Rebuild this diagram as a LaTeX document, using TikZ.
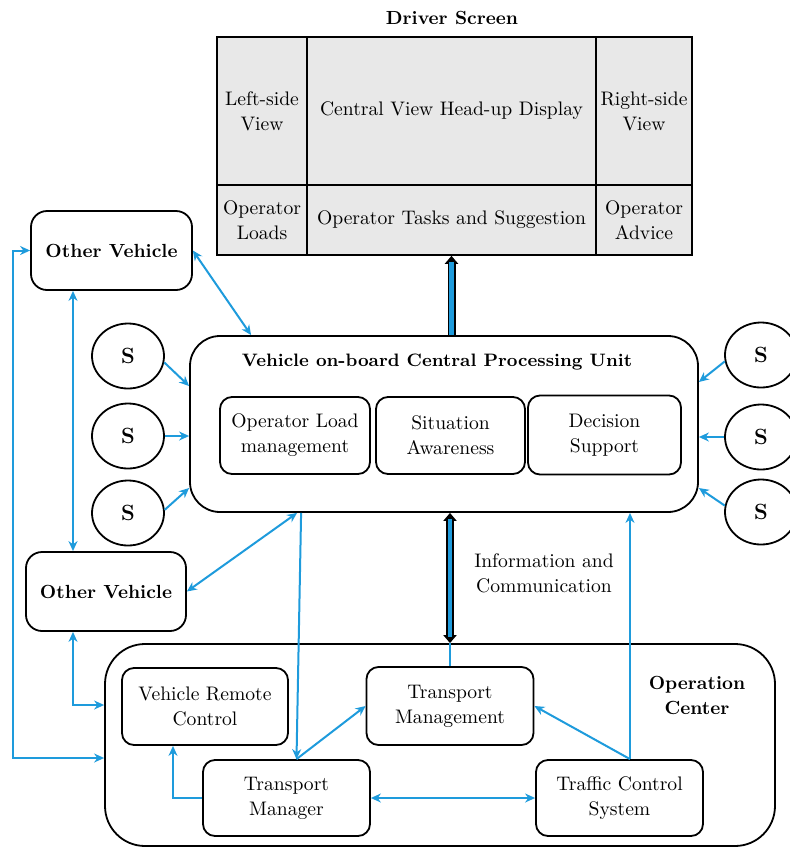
\documentclass[tikz,border=0pt]{standalone}
\usetikzlibrary{arrows.meta,shapes.geometric}
\definecolor{linkblue}{RGB}{30,155,220}

\begin{document}
\begin{tikzpicture}[x=0.5pt,y=-0.5pt,>={Stealth[length=5pt,width=4.5pt]}]
				\tikzstyle{every node}=[font=\fontsize{9.8}{12.5}\selectfont]
				\tikzstyle{title}=[font=\fontsize{9.5}{12.5}\selectfont\bfseries, align=center]
				\tikzstyle{cell}=[draw, fill=gray!18, line width=0.8pt, align=center, inner sep=0pt, minimum height=74pt]
				\tikzstyle{lowcell}=[cell, minimum height=35pt]
				\tikzstyle{unit}=[draw, line width=0.9pt, rounded corners=6pt, align=center, inner sep=0pt]
				\tikzstyle{sensor}=[draw, line width=0.9pt, ellipse, minimum width=36pt, minimum height=32.5pt, inner sep=0pt, font=\fontsize{11}{13}\selectfont\bfseries]
				\tikzstyle{link}=[draw=linkblue, line width=1pt]
				\tikzstyle{pipe}=[line width=4pt]
				\tikzstyle{pipecore}=[linkblue, line width=2.4pt]
				\useasboundingbox (0,0) rectangle (789,848);
				\node[title] (screen) at (452,18) {Driver Screen};
				\node[cell, minimum width=45pt] (leftv) at (262,111) {Left-side\\View};
				\node[cell, minimum width=144.5pt] (centv) at (451.5,111) {Central View Head-up Display};
				\node[cell, minimum width=48pt] (rightv) at (644,111) {Right-side\\View};
				\node[lowcell, minimum width=45pt] (loads) at (262,220) {Operator\\Loads};
				\node[lowcell, minimum width=144.5pt] (tasks) at (451.5,220) {Operator Tasks and Suggestion};
				\node[lowcell, minimum width=48pt] (advice) at (644,220) {Operator\\Advice};
				\node[unit, rounded corners=15pt, minimum width=254pt, minimum height=88pt] (cpu) at (444,424) {};
				\node[title, font=\fontsize{9}{12}\selectfont\bfseries] (cputitle) at (437,362) {Vehicle on-board Central Processing Unit};
				\node[unit, minimum width=75pt, minimum height=38.5pt] (olm) at (295,435.5) {Operator Load\\management};
				\node[unit, minimum width=74.5pt, minimum height=38.5pt] (sa) at (450.5,435.5) {Situation\\Awareness};
				\node[unit, minimum width=76.5pt, minimum height=39.5pt] (ds) at (604.5,435) {Decision\\Support};
				\node[unit, rounded corners=8pt, minimum width=80.5pt, minimum height=39.5pt, title] (ov1) at (111.5,250.5) {Other Vehicle};
				\node[unit, rounded corners=8pt, minimum width=80pt, minimum height=39.5pt, title] (ov2) at (106,591.5) {Other Vehicle};
				\node[sensor] (s1) at (128,356) {S};
				\node[sensor] (s2) at (128,436) {S};
				\node[sensor] (s3) at (128,513) {S};
				\node[sensor] (s4) at (761,355) {S};
				\node[sensor] (s5) at (761,437) {S};
				\node[sensor] (s6) at (761,512) {S};
				\node[align=center] (info) at (544,573) {Information and\\Communication};
				\node[unit, rounded corners=20pt, minimum width=335pt, minimum height=101pt] (oc) at (440,745) {};
				\node[title] (octitle) at (697,695) {Operation\\Center};
				\node[unit, minimum width=83pt, minimum height=38.5pt] (vrc) at (205,706.5) {Vehicle Remote\\Control};
				\node[unit, minimum width=83.5pt, minimum height=39pt] (tmg) at (450,706) {Transport\\Management};
				\node[unit, minimum width=83.5pt, minimum height=38pt] (tmr) at (286.5,798) {Transport\\Manager};
				\node[unit, minimum width=83.5pt, minimum height=38pt] (tcs) at (619.5,798) {Traffic Control\\System};
				\coordinate (fl) at (13,758);
				\coordinate (lb) at (73,705);
				\coordinate (tm) at ([xshift=5pt]tmr.north);
				\coordinate (tt) at ([xshift=5.25pt]tcs.north);
				\draw[link, <->] (ov1.east) -- ([xshift=31pt]cpu.north west);
				\draw[link, ->] (s1.-10) -- ([yshift=19pt]cpu.west);
				\draw[link, ->] (s2.east) -- (cpu.west |- s2.east);
				\draw[link, ->] (s3.5) -- ([yshift=-32pt]cpu.west);
				\draw[link, ->] (s4.190) -- ([yshift=21pt]cpu.east);
				\draw[link, ->] (s5.west) -- (cpu.east |- s5.west);
				\draw[link, ->] (s6.170) -- ([yshift=-32pt]cpu.east);
				\draw[link, <->] (ov1.south -| lb) -- (ov2.north -| lb);
				\draw[link, <->] (ov1.west) -| (fl) -- (fl -| oc.west);
				\draw[link, <->] (ov2.south -| lb) -- (lb) -- (lb -| oc.west);
				\draw[link, <->] (ov2.east) -- ([xshift=54pt]cpu.south west);
				\draw[link, ->] ([xshift=56pt]cpu.south west) -- (tm);
				\draw[link, ->] (tm) -- (tmg.west);
				\draw[link, ->] (tmr.west) -| ([xshift=-16pt]vrc.south);
				\draw[link, <->] (tmr.east) -- (tcs.west);
				\draw[link, ->] (tt) -- (tmg.east);
				\draw[link, ->] (tt) -- (tt |- cpu.south);
				\draw[link] (tmg.north) -- (tmg.north |- oc.north);
				\draw[pipe, -{Triangle[length=4pt,width=6.5pt]}] (tasks.south |- cpu.north) -- (tasks.south);
				\draw[pipecore, shorten >=3pt] (tasks.south |- cpu.north) -- (tasks.south);
				\draw[pipe, {Triangle[length=4pt,width=6.5pt]}-{Triangle[length=4pt,width=6.5pt]}] (tmg.north |- cpu.south) -- (tmg.north |- oc.north);
				\draw[pipecore, shorten >=3pt, shorten <=3pt] (tmg.north |- cpu.south) -- (tmg.north |- oc.north);
\end{tikzpicture}
\end{document}
